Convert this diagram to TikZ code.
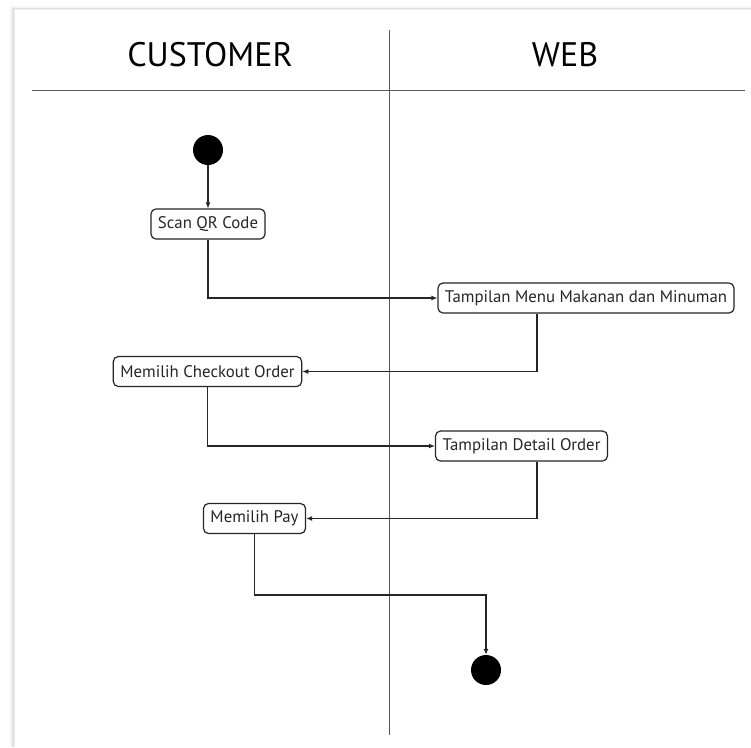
\documentclass[tikz,border=0pt]{standalone}
\usepackage{fontspec}
\setmainfont{PT Sans}
\usetikzlibrary{arrows.meta}
\begin{document}
\begin{tikzpicture}[x=1pt,y=-1pt,
  lane/.style={draw=black!65,line width=0.9pt},
  lanetitle/.style={font=\fontsize{34}{40}\selectfont},
  action/.style={draw=black!85,line width=1.2pt,rounded corners=5pt,fill=white,
    minimum height=30pt,inner xsep=7pt,inner ysep=0pt,
    font=\fontsize{16.8}{20}\selectfont,text=black!85},
  terminal/.style={circle,fill=black,minimum size=30pt,inner sep=0pt},
  flow/.style={draw=black!85,line width=1.1pt,-{Latex[length=6pt,width=5pt]}}]
  \useasboundingbox (0,0) rectangle (751,747);
  % page with a soft shadow on its top and left edges
  \fill[black!4] (10,6) rectangle (751,747);
  \fill[black!12] (12,8) rectangle (751,747);
  \fill[black!7] (14,9) rectangle (751,747);
  \fill[white] (15,10) rectangle (751,747);
  % swimlanes
  \draw[lane] (32,90) -- (745,90);
  \draw[lane] (389,30) -- (389,735);
  \node[lanetitle] (customer) at (210,55) {CUSTOMER};
  \node[lanetitle] (web) at (565,55) {WEB};
  % activities
  \node[terminal] (start) at (208,150) {};
  \node[action] (scan) at (208,224) {Scan QR Code};
  \node[action] (menu) at (586,298) {Tampilan Menu Makanan dan Minuman};
  \node[action] (checkout) at (207.5,371.5) {Memilih Checkout Order};
  \node[action] (detail) at (521.5,446) {Tampilan Detail Order};
  \node[action] (pay) at (254.5,518.5) {Memilih Pay};
  \node[terminal] (finish) at (486,670) {};
  % control flow
  \draw[flow] (start) -- (scan);
  \draw[flow] (scan.south) |- (menu.west);
  \draw[flow] ([xshift=-49pt]menu.south) |- (checkout.east);
  \draw[flow] (checkout.south) |- (detail.west);
  \draw[flow] ([xshift=15.5pt]detail.south) |- (pay.east);
  \draw[flow] (pay.south) -- (pay.south |- 0,595) -| (finish.north);
\end{tikzpicture}
\end{document}
